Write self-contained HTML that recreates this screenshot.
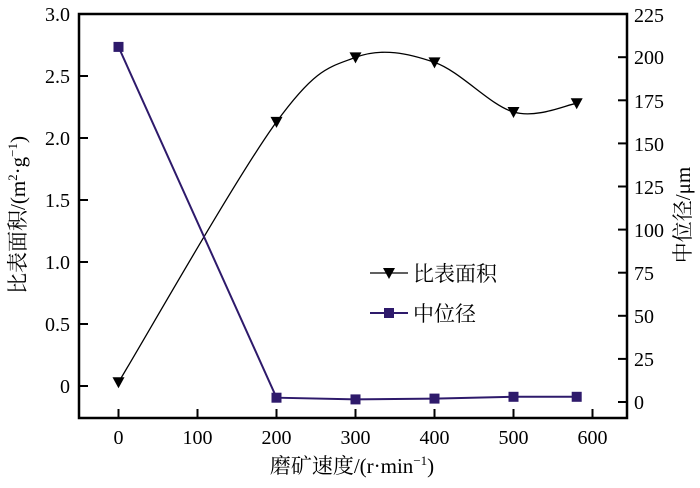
<!DOCTYPE html>
<html><head><meta charset="utf-8"><style>
html,body{margin:0;padding:0;background:#fff;}
text{font-family:"Liberation Serif","Noto Serif CJK SC",serif;fill:#000;}
</style></head><body>
<svg width="700" height="483" viewBox="0 0 700 483" xmlns="http://www.w3.org/2000/svg">
<rect x="79" y="14" width="548" height="404" fill="none" stroke="#000" stroke-width="2.5"/>
<g stroke="#000" stroke-width="2">
<line x1="118.5" y1="418" x2="118.5" y2="409"/>
<line x1="197.5" y1="418" x2="197.5" y2="409"/>
<line x1="276.5" y1="418" x2="276.5" y2="409"/>
<line x1="355.5" y1="418" x2="355.5" y2="409"/>
<line x1="434.5" y1="418" x2="434.5" y2="409"/>
<line x1="513.5" y1="418" x2="513.5" y2="409"/>
<line x1="592.5" y1="418" x2="592.5" y2="409"/>
<line x1="79" y1="386" x2="88" y2="386"/>
<line x1="79" y1="324" x2="88" y2="324"/>
<line x1="79" y1="262" x2="88" y2="262"/>
<line x1="79" y1="200" x2="88" y2="200"/>
<line x1="79" y1="138" x2="88" y2="138"/>
<line x1="79" y1="76" x2="88" y2="76"/>
<line x1="627" y1="402" x2="618" y2="402"/>
<line x1="627" y1="358.9" x2="618" y2="358.9"/>
<line x1="627" y1="315.8" x2="618" y2="315.8"/>
<line x1="627" y1="272.7" x2="618" y2="272.7"/>
<line x1="627" y1="229.6" x2="618" y2="229.6"/>
<line x1="627" y1="186.5" x2="618" y2="186.5"/>
<line x1="627" y1="143.4" x2="618" y2="143.4"/>
<line x1="627" y1="100.3" x2="618" y2="100.3"/>
<line x1="627" y1="57.2" x2="618" y2="57.2"/>
</g>
<g font-size="20" text-anchor="middle">
<text x="118.5" y="444">0</text><text x="197.5" y="444">100</text><text x="276.5" y="444">200</text>
<text x="355.5" y="444">300</text><text x="434.5" y="444">400</text><text x="513.5" y="444">500</text><text x="592.5" y="444">600</text>
</g>
<g font-size="20" text-anchor="end">
<text x="70" y="393">0</text><text x="70" y="331">0.5</text><text x="70" y="269">1.0</text>
<text x="70" y="207">1.5</text><text x="70" y="145">2.0</text><text x="70" y="83">2.5</text><text x="70" y="21">3.0</text>
</g>
<g font-size="20" text-anchor="start">
<text x="634" y="409">0</text><text x="634" y="366">25</text><text x="634" y="323">50</text><text x="634" y="280">75</text>
<text x="634" y="237">100</text><text x="634" y="194">125</text><text x="634" y="151">150</text><text x="634" y="108">175</text>
<text x="634" y="64">200</text><text x="634" y="22">225</text>
</g>
<text x="352" y="473" font-size="21" text-anchor="middle">磨矿速度/(r·min<tspan font-size="13" dy="-8">−1</tspan><tspan dy="8">)</tspan></text>
<text transform="translate(25,215) rotate(-90)" font-size="21" text-anchor="middle">比表面积/(m<tspan font-size="13" dy="-8">2</tspan><tspan dy="8">·g</tspan><tspan font-size="13" dy="-8">−1</tspan><tspan dy="8">)</tspan></text>
<text transform="translate(690,215) rotate(-90)" font-size="21" text-anchor="middle">中位径/μm</text>
<path d="M118.5,382.3 C144.8,338.9 237,176 276.5,121.9 C316,67.75 329.2,67.3 355.5,57.4 C381.8,47.5 408.2,53.3 434.5,62.4 C460.8,71.5 489.8,105.2 513.5,112 C537.2,118.8 566.2,104.75 576.7,103.3" fill="none" stroke="#000" stroke-width="1.3"/>
<g fill="#000">
<path d="M112.5,377.3 h12 l-6,11 z"/><path d="M270.5,116.9 h12 l-6,11 z"/><path d="M349.5,52.4 h12 l-6,11 z"/>
<path d="M428.5,57.4 h12 l-6,11 z"/><path d="M507.5,107 h12 l-6,11 z"/><path d="M570.7,98.3 h12 l-6,11 z"/>
</g>
<polyline points="118.5,46.9 276.5,397.7 355.5,399.4 434.5,398.6 513.5,396.8 576.7,396.8" fill="none" stroke="#2e1a6b" stroke-width="2"/>
<g fill="#2e1a6b">
<rect x="113.5" y="41.9" width="10" height="10"/><rect x="271.5" y="392.7" width="10" height="10"/>
<rect x="350.5" y="394.4" width="10" height="10"/><rect x="429.5" y="393.6" width="10" height="10"/>
<rect x="508.5" y="391.8" width="10" height="10"/><rect x="571.7" y="391.8" width="10" height="10"/>
</g>
<line x1="370" y1="273" x2="408" y2="273" stroke="#000" stroke-width="1.3"/>
<path d="M383,268 h12 l-6,11 z" fill="#000"/>
<text x="413" y="281" font-size="21">比表面积</text>
<line x1="370" y1="313" x2="408" y2="313" stroke="#2e1a6b" stroke-width="2"/>
<rect x="384" y="308" width="10" height="10" fill="#2e1a6b"/>
<text x="413" y="321" font-size="21">中位径</text>
</svg>
</body></html>
